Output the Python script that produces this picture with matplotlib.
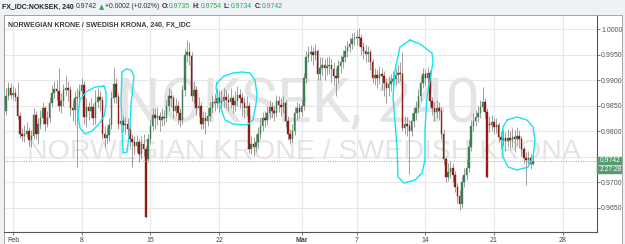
import numpy as np
import pandas as pd
import matplotlib
matplotlib.use("Agg")
import matplotlib.pyplot as plt
from matplotlib.patches import Rectangle

# ---------------- data (4h candles, NOK/SEK) ----------------
opens = [
 .9840,.9870,.9885,.9872,.9876,.9868,.9830,.9795,.9790,.9795,.9800,.9783,.9790,.9832,.9795,.9815,.9825,.9845,.9815,.9825,
 .9855,.9875,.9882,.9878,.9850,.9860,.9880,.9885,.9880,.9845,.9842,.9866,.9868,.9878,.9890,.9828,.9848,.9840,.9848,.9825,
 .9858,.9868,.9862,.9795,.9786,.9792,.9812,.9865,.9893,.9868,.9815,.9820,.9812,.9815,.9805,.9785,.9778,.9772,.9778,.9755,
 .9775,.9765,.9745,.9785,.9810,.9832,.9825,.9830,.9822,.9828,.9826,.9850,.9870,.9865,.9840,.9850,.9835,.9822,.9880,.9950,
 .9955,.9948,.9870,.9880,.9845,.9850,.9815,.9825,.9820,.9830,.9845,.9858,.9855,.9865,.9855,.9860,.9868,.9862,.9858,.9865,
 .9852,.9860,.9872,.9865,.9855,.9845,.9850,.9765,.9775,.9770,.9778,.9795,.9810,.9825,.9822,.9835,.9848,.9840,.9835,.9860,
 .9852,.9848,.9856,.9820,.9795,.9785,.9800,.9835,.9845,.9838,.9850,.9905,.9945,.9952,.9955,.9950,.9958,.9912,.9925,.9930,
 .9925,.9928,.9930,.9923,.9908,.9905,.9928,.9935,.9945,.9958,.9965,.9972,.9980,.9983,.9985,.9982,.9965,.9958,.9952,.9955,
 .9935,.9905,.9910,.9905,.9912,.9908,.9895,.9885,.9892,.9898,.9903,.9910,.9915,.9912,.9806,.9815,.9810,.9800,.9820,.9835,
 .9845,.9870,.9895,.9912,.9905,.9915,.9860,.9845,.9838,.9845,.9840,.9795,.9745,.9710,.9720,.9728,.9715,.9690,.9672,.9658,
 .9700,.9715,.9728,.9770,.9810,.9820,.9828,.9835,.9848,.9858,.9838,.9815,.9812,.9818,.9808,.9812,.9788,.9782,.9786,.9780,
 .9787,.9783,.9788,.9785,.9790,.9784,.9765,.9747,.9743,.9748,.9735]
highs = [
 .9885,.9897,.9895,.9888,.9884,.9897,.9838,.9806,.9812,.9818,.9808,.9802,.9845,.9840,.9825,.9842,.9858,.9850,.9840,.9868,
 .9890,.9898,.9900,.9924,.9875,.9892,.9910,.9898,.9888,.9862,.9878,.9885,.9892,.9905,.9898,.9865,.9858,.9866,.9855,.9880,
 .9885,.9878,.9870,.9810,.9808,.9825,.9878,.9926,.9905,.9875,.9835,.9830,.9828,.9825,.9812,.9795,.9790,.9792,.9785,.9790,
 .9795,.9772,.9795,.9822,.9845,.9845,.9848,.9838,.9845,.9842,.9862,.9885,.9880,.9872,.9865,.9860,.9845,.9890,.9962,.9979,
 .9975,.9955,.9898,.9888,.9868,.9858,.9840,.9838,.9845,.9858,.9872,.9875,.9885,.9878,.9880,.9885,.9880,.9875,.9885,.9872,
 .9878,.9888,.9882,.9875,.9868,.9870,.9858,.9790,.9788,.9795,.9808,.9825,.9838,.9840,.9850,.9862,.9858,.9852,.9872,.9870,
 .9865,.9870,.9862,.9830,.9805,.9815,.9848,.9858,.9855,.9862,.9915,.9958,.9968,.9970,.9965,.9972,.9962,.9945,.9945,.9942,
 .9945,.9948,.9942,.9935,.9925,.9940,.9950,.9960,.9970,.9978,.9985,.9992,.9995,.9998,1.0003,.9990,.9975,.9970,.9968,.9962,
 .9942,.9925,.9922,.9928,.9925,.9918,.9905,.9908,.9912,.9918,.9925,.9930,.9935,.9956,.9830,.9828,.9822,.9835,.9848,.9860,
 .9882,.9908,.9925,.9922,.9927,.9920,.9868,.9858,.9862,.9858,.9848,.9805,.9752,.9738,.9742,.9738,.9722,.9698,.9685,.9712,
 .9728,.9745,.9785,.9822,.9835,.9842,.9850,.9862,.9887,.9865,.9845,.9830,.9832,.9825,.9826,.9818,.9800,.9805,.9798,.9805,
 .9800,.9806,.9802,.9808,.9802,.9790,.9772,.9760,.9762,.9755,.9754]
lows = [
 .9832,.9862,.9865,.9862,.9860,.9824,.9786,.9780,.9778,.9788,.9772,.9770,.9785,.9785,.9775,.9805,.9815,.9800,.9808,.9818,
 .9848,.9865,.9862,.9840,.9835,.9850,.9870,.9860,.9830,.9820,.9812,.9730,.9850,.9865,.9815,.9808,.9822,.9825,.9812,.9815,
 .9845,.9840,.9785,.9770,.9775,.9780,.9805,.9855,.9855,.9805,.9800,.9798,.9795,.9790,.9770,.9730,.9755,.9760,.9740,.9745,
 .9752,.9629,.9740,.9775,.9800,.9805,.9812,.9800,.9810,.9812,.9818,.9840,.9848,.9825,.9830,.9815,.9808,.9815,.9870,.9935,
 .9930,.9860,.9855,.9832,.9830,.9805,.9805,.9795,.9810,.9820,.9835,.9840,.9845,.9838,.9842,.9848,.9845,.9840,.9845,.9835,
 .9840,.9850,.9845,.9830,.9825,.9832,.9758,.9755,.9752,.9760,.9765,.9785,.9800,.9808,.9812,.9825,.9825,.9820,.9828,.9838,
 .9830,.9835,.9808,.9782,.9775,.9778,.9792,.9822,.9825,.9830,.9842,.9895,.9935,.9938,.9930,.9940,.9900,.9900,.9908,.9900,
 .9910,.9912,.9895,.9890,.9870,.9895,.9915,.9925,.9935,.9945,.9955,.9962,.9968,.9970,.9968,.9950,.9942,.9935,.9935,.9920,
 .9895,.9890,.9885,.9892,.9880,.9870,.9855,.9870,.9878,.9885,.9890,.9895,.9898,.9800,.9795,.9790,.9717,.9790,.9808,.9822,
 .9835,.9860,.9885,.9890,.9895,.9850,.9832,.9820,.9825,.9822,.9785,.9735,.9700,.9702,.9708,.9700,.9680,.9660,.9645,.9650,
 .9690,.9705,.9720,.9762,.9800,.9810,.9818,.9825,.9840,.9825,.9708,.9798,.9800,.9795,.9796,.9778,.9768,.9772,.9762,.9770,
 .9765,.9770,.9760,.9772,.9768,.9752,.9738,.9694,.9735,.9725,.9734]
closes = [
 .9870,.9885,.9872,.9876,.9868,.9830,.9795,.9790,.9795,.9800,.9783,.9790,.9832,.9795,.9815,.9825,.9845,.9815,.9825,.9855,
 .9875,.9882,.9878,.9850,.9860,.9880,.9885,.9880,.9845,.9842,.9866,.9868,.9878,.9890,.9828,.9848,.9840,.9848,.9825,.9858,
 .9868,.9862,.9795,.9786,.9792,.9812,.9865,.9893,.9868,.9815,.9820,.9812,.9815,.9805,.9785,.9778,.9772,.9778,.9755,.9775,
 .9765,.9632,.9785,.9810,.9832,.9825,.9830,.9822,.9828,.9826,.9850,.9870,.9865,.9840,.9850,.9835,.9822,.9880,.9950,.9955,
 .9948,.9870,.9880,.9845,.9850,.9815,.9825,.9820,.9830,.9845,.9858,.9855,.9865,.9855,.9860,.9868,.9862,.9858,.9865,.9852,
 .9860,.9872,.9865,.9855,.9845,.9850,.9765,.9775,.9770,.9778,.9795,.9810,.9825,.9822,.9835,.9848,.9840,.9835,.9860,.9852,
 .9848,.9856,.9820,.9795,.9785,.9800,.9835,.9845,.9838,.9850,.9905,.9945,.9952,.9955,.9950,.9958,.9912,.9925,.9930,.9925,
 .9928,.9930,.9923,.9908,.9905,.9928,.9935,.9945,.9958,.9965,.9972,.9980,.9983,.9985,.9982,.9965,.9958,.9952,.9955,.9935,
 .9905,.9910,.9905,.9912,.9908,.9895,.9885,.9892,.9898,.9903,.9910,.9915,.9912,.9806,.9815,.9810,.9800,.9820,.9835,.9845,
 .9870,.9895,.9912,.9905,.9915,.9860,.9845,.9838,.9845,.9840,.9795,.9745,.9710,.9720,.9728,.9715,.9690,.9672,.9658,.9700,
 .9715,.9728,.9770,.9810,.9820,.9828,.9835,.9848,.9858,.9838,.9711,.9812,.9818,.9808,.9812,.9788,.9782,.9786,.9780,.9787,
 .9783,.9788,.9785,.9790,.9784,.9765,.9747,.9743,.9748,.9735,.9742]

first_day = "2016-01-29"        # session of the first candle
first_slot = 3                  # first candle = 4th 4h bar of that day
bars_per_day = 6
tick_dates = ["2016-02-01", "2016-02-08", "2016-02-15", "2016-02-22", "2016-03-01",
              "2016-03-07", "2016-03-14", "2016-03-21", "2016-03-28"]
tick_labels = ["Feb", "8", "15", "22", "Mar", "7", "14", "21", "28"]
bold_labels = ["Mar"]
price_ticks = [0.9650, 0.9700, 0.9750, 0.9800, 0.9850, 0.9900, 0.9950, 1.0000]
last_price = 0.9742
countdown = "2:27:28"
symbol = "FX_IDC:NOKSEK, 240"
change_txt = "+0.0002 (+0.02%)"
ohlc_names = ["O:", "H:", "L:", "C:"]
ohlc_vals = ["0.9735", "0.9754", "0.9734", "0.9742"]
title_txt = "NORWEGIAN KRONE / SWEDISH KRONA, 240, FX_IDC"
wm1 = "NOKSEK, 240"
wm2 = "NORWEGIAN KRONE / SWEDISH KRONA"

# ---------------- layout helpers ----------------
W, H = 625, 244
def fx(px): return px / W
def fy(py): return 1 - py / H

GREEN = "#3b7f52"
RED = "#8f1d16"
WICK = "#858585"
HDR_GREEN = "#2fa84f"
BOX_GREEN = "#559d6f"
FONT = ["Liberation Sans", "DejaVu Sans"]
plt.rcParams["font.family"] = FONT

fig = plt.figure(figsize=(W / 100, H / 100), dpi=100, facecolor="#eef1f5")
renderer = fig.canvas.get_renderer()

# chart container (behind the axes)
fig.patches.append(Rectangle((fx(3.5), fy(243.5)), fx(622) - fx(3.5), fy(15) - fy(243.5),
                             transform=fig.transFigure, facecolor="white",
                             edgecolor="#a8a8a8", lw=0.7, zorder=-5))

ax_l, ax_r, ax_t, ax_b = 4, 597, 15, 232
ax = fig.add_axes([fx(ax_l), fy(ax_b), fx(ax_r) - fx(ax_l), fy(ax_t) - fy(ax_b)])
ax.set_zorder(1)
ax.set_facecolor("white")

# x positions from trading calendar
days = pd.bdate_range(first_day, "2016-04-15")
def day_pos(d):
    return bars_per_day * days.get_loc(pd.Timestamp(d))
n = len(closes)
xs = np.arange(n) + first_slot
o = np.array(opens); c = np.array(closes); h = np.array(highs); l = np.array(lows)

x0 = day_pos("2016-02-01")
px_per_bar = 2.2905
xlim = (x0 + (ax_l - 13) / px_per_bar, x0 + (ax_r - 13) / px_per_bar)
px_per_unit = 5097.0
ylim = (1.0 - (ax_b - 29.3) / px_per_unit, 1.0 + (29.3 - ax_t) / px_per_unit)
ax.set_xlim(*xlim)
ax.set_ylim(*ylim)

# grid
tick_pos = [day_pos(d) for d in tick_dates]
for tp in tick_pos:
    ax.axvline(tp, color="#e8e8e8", lw=0.8, zorder=0)
for pt in price_ticks:
    ax.axhline(pt, color="#e8e8e8", lw=0.8, zorder=0)

# watermarks
ax.text(0.497, 0.585, wm1, transform=ax.transAxes, ha="center", va="center",
        fontsize=44, color="#e4e4e4", family=["Roboto", "DejaVu Sans"], zorder=1)
ax.text(0.505, 0.37, wm2, transform=ax.transAxes, ha="center", va="center",
        fontsize=20.5, color="#e4e4e4", zorder=1)

# candles
ax.vlines(xs, l, h, color=WICK, lw=0.55, zorder=2)
up = c >= o
bottom = np.minimum(o, c)
height = np.maximum(np.abs(c - o), 0.00007)
ax.bar(xs[up], height[up], bottom=bottom[up], width=0.66, color=GREEN,
       edgecolor=GREEN, lw=0.3, zorder=3)
ax.bar(xs[~up], height[~up], bottom=bottom[~up], width=0.66, color=RED,
       edgecolor=RED, lw=0.3, zorder=3)

# last price line
ax.axhline(last_price, color="#6cbf84", lw=0.7, ls=(0, (1, 1.5)), zorder=4)

# axes styling
for s in ["left", "top"]:
    ax.spines[s].set_color("#a0a0a0"); ax.spines[s].set_linewidth(0.7)
for s in ["right", "bottom"]:
    ax.spines[s].set_color("#555555"); ax.spines[s].set_linewidth(0.8)
ax.yaxis.tick_right()
ax.set_yticks(price_ticks)
# the label hidden behind the last-price box in the reference is left blank
ax.set_yticklabels(["" if abs(v - last_price) < 0.0012 else f"{v:.4f}" for v in price_ticks])
ax.tick_params(axis="y", length=2, width=0.6, color="#666666", pad=1,
               labelsize=5.0, labelcolor="#555555")
ax.set_xticks(tick_pos)
ax.set_xticklabels(tick_labels)
ax.tick_params(axis="x", length=2, width=0.6, color="#666666", pad=1.5,
               labelsize=5.0, labelcolor="#444444")
for lab in ax.get_xticklabels():
    if lab.get_text() in bold_labels:
        lab.set_fontweight("bold")

# title inside pane
fig.text(fx(8), fy(25), title_txt, fontsize=5.0, fontweight="bold", color="#3a3a3a",
         ha="left", va="center", zorder=5)

# header line, laid out piece by piece
hy = fy(7)
FS = 4.95
pieces = [(symbol, "bold", "#222222", FONT, 2.5),
          (f"{last_price:.4f}", "normal", "#333333", FONT, 1.5),
          ("\u25B2", "normal", HDR_GREEN, ["DejaVu Sans"], 1.2),
          (change_txt, "normal", "#333333", FONT, 2.0)]
for nm, vv in zip(ohlc_names, ohlc_vals):
    pieces.append((nm, "bold", "#333333", FONT, 0.4))
    pieces.append((vv, "normal", HDR_GREEN, FONT, 2.5))
cur = 2.0
for txt, wt, col, fam, gap in pieces:
    t = fig.text(fx(cur), hy, txt, fontsize=FS, fontweight=wt, color=col,
                 family=fam, va="center", ha="left")
    bb = t.get_window_extent(renderer)
    cur = cur + bb.width + gap

# price / countdown boxes on the price axis
def price_to_py(p):
    return ax_t + (ylim[1] - p) / (ylim[1] - ylim[0]) * (ax_b - ax_t)
py = price_to_py(last_price)
for k, txt in enumerate([f"{last_price:.4f}", countdown]):
    top = py - 4.3 + k * 9.0
    fig.patches.append(Rectangle((fx(597), fy(top + 8.4)), fx(622) - fx(597), fy(top) - fy(top + 8.4),
                                 transform=fig.transFigure, facecolor=BOX_GREEN,
                                 edgecolor=BOX_GREEN, lw=0.3, zorder=20))
    fig.text(fx(600), fy(top + 4.2), txt, fontsize=4.9, color="white", va="center",
             ha="left", zorder=21)

# hand-drawn cyan loops (reference pixel coordinates -> data)
loops_px = [
    [(104, 86), (95, 87), (86, 92), (80, 100), (78, 115), (80, 128), (85, 134), (92, 131),
     (99, 124), (104, 116), (106, 105), (106, 92), (104, 86)],
    [(122, 72), (121, 100), (122, 130), (123, 153), (127, 152), (130, 128), (131, 104),
     (132, 96), (134, 76), (131, 70), (126, 69), (122, 72)],
    [(217, 83), (224, 76), (233, 73), (242, 72), (250, 73), (255, 80), (257, 95), (256, 104),
     (253, 120), (247, 125), (233, 124), (225, 120), (218, 100), (216, 87), (217, 83)],
    [(410, 40), (420, 44), (428, 50), (432, 53), (433, 62), (430, 80), (427, 97), (425, 130),
     (425, 160), (422, 173), (415, 180), (404, 183), (398, 177), (397, 147), (393, 97),
     (395, 70), (400, 47), (410, 40)],
    [(507, 120), (517, 117), (527, 120), (533, 127), (535, 140), (533, 157), (528, 167),
     (517, 170), (508, 167), (503, 157), (502, 140), (503, 127), (507, 120)],
]
def px_to_data(px, pyy):
    xd = xlim[0] + (px - ax_l) / (ax_r - ax_l) * (xlim[1] - xlim[0])
    yd = ylim[1] - (pyy - ax_t) / (ax_b - ax_t) * (ylim[1] - ylim[0])
    return xd, yd
for lp in loops_px:
    pts = np.array([px_to_data(a, b) for a, b in lp])
    ax.plot(pts[:, 0], pts[:, 1], color="#14e4f0", lw=1.0, zorder=6,
            solid_joinstyle="round", solid_capstyle="round")

fig.savefig("out.png", dpi=100, facecolor=fig.get_facecolor())
